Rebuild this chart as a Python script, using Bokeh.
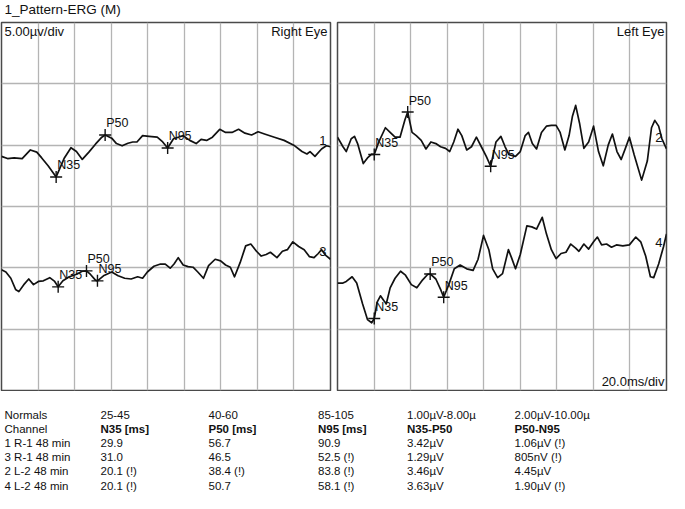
from bokeh.plotting import figure
from bokeh.layouts import column, row
from bokeh.models import Range1d, FixedTicker
from bokeh.core.properties import value
from bokeh.embed import file_html
from bokeh.resources import INLINE

FONT = "Liberation Sans"
INK = "#111111"

# ---------------- data ----------------
title_text = "1_Pattern-ERG (M)"
x_ticks = [20, 40, 60, 80, 100, 120, 140, 160]      # ms (20 ms/div)
y_ticks = [-10, -5, 0, 5, 10]                        # µV (5 µV/div)

# trace 1 (Right eye, upper)
t1 = [0, 3.3, 6.9, 11.3, 15.8, 19.3, 22.0, 25.5, 29.9, 34.4, 38.0, 41.0, 44.2, 47.8, 51.4,
      54.9, 56.7, 60.3, 62.9, 66.0, 69.2, 71.8, 74.1, 77.2, 80.7, 85.2, 88.2, 90.9, 94.1, 96.7,
      99.4, 103.0, 106.5, 109.2, 112.2, 115.4, 119.4, 122.6, 126.1, 129.7, 133.2, 136.8, 140.4,
      143.9, 149.3, 154.6, 159.9, 164.4, 167.1, 168.8, 171.5, 175.1, 177.7, 180]
v1 = [-0.91, -1.09, -1.04, -1.09, -0.39, -0.57, -1.04, -1.68, -2.59, -1.04, -0.21, -0.52, -1.16,
      -0.57, 0.08, 0.65, 0.83, 0.57, 0.13, -0.05, 0.16, 0.26, 0.26, 0.78, 0.72, 0.65, 0.26, -0.23,
      0.52, 0.65, 0.78, 0.39, 0.13, 0.47, 0.39, 0.65, 1.29, 1.04, 1.04, 1.29, 0.98, 0.83, 1.09,
      0.91, 0.65, 0.39, 0, -0.52, -0.72, -0.52, -0.91, -0.31, -0.05, -0.13]

# trace 3 (Right eye, lower)
t3 = [0, 2.4, 5.1, 7.7, 9.5, 12.2, 14.9, 17.5, 20.2, 22.9, 26.4, 29.1, 31.0, 33.6, 37.1, 40.7,
      44.2, 46.5, 48.7, 51.4, 52.5, 55.8, 60.3, 63.8, 67.4, 70.9, 74.5, 77.2, 79.8, 83.4, 87.0,
      89.6, 92.3, 94.4, 96.7, 99.4, 102.1, 104.8, 107.4, 110.5, 113.3, 116.9, 119.9, 122.6, 125.2,
      127.5, 130.6, 133.6, 136.4, 139.5, 142.1, 144.8, 147.1, 150.7, 153.7, 156.4, 159.4, 162.6,
      165.6, 168.5, 171.0, 173.3, 175.1, 177.4, 180]
v3 = [-0.16, -0.34, -0.85, -1.76, -1.94, -1.37, -0.91, -1.37, -1.11, -1.06, -0.80, -1.11, -1.55,
      -1.06, -0.73, -0.54, -0.28, -0.25, -0.54, -1.00, -1.06, -0.65, -0.34, -0.65, -0.85, -0.91,
      -0.73, -0.85, -0.34, 0.13, 0.31, 0.31, -0.03, 0.31, 0.83, 0.23, 0.10, 0.05, -0.34, -0.85,
      0.18, 0.70, 0.57, 0.23, 0.05, -0.73, 0.44, 1.79, 1.94, 1.35, 0.96, 1.09, 1.27, 0.83, 1.35,
      1.48, 2.12, 1.74, 1.48, 0.91, 0.83, 1.17, 1.48, 1.01, 0.70]

# trace 2 (Left eye, upper)
t2 = [0, 3.0, 4.8, 7.5, 9.3, 11.0, 14.1, 16.4, 18.7, 20.1, 22.6, 26.2, 28.8, 31.5, 34.2, 36.9,
      38.4, 40.8, 43.1, 45.8, 48.4, 51.1, 53.8, 56.4, 59.1, 61.4, 63.6, 65.9, 68.0, 70.7, 73.3,
      76.0, 78.7, 81.4, 83.8, 86.7, 89.4, 91.7, 93.8, 97.4, 100.0, 102.7, 104.5, 106.6, 108.9,
      111.6, 114.3, 117.0, 119.6, 121.8, 124.4, 126.7, 128.5, 130.3, 132.4, 134.8, 137.4, 140.1,
      142.8, 145.4, 148.1, 150.4, 152.9, 155.2, 157.5, 159.7, 162.3, 166.4, 169.5, 171.8, 173.6,
      175.7, 177.5, 180]
v2 = [0.65, -0.13, -0.52, 0.52, 0.72, 0.13, -1.50, -1.04, -0.73, -0.76, 0.26, 1.42, 1.04, 0.65,
      0.65, 2.07, 2.70, 1.04, 0.78, 0.39, -0.31, 0.26, 0.13, -0.13, -0.26, -0.52, 0.26, 1.30,
      0.78, -0.39, -0.13, 0.65, -0.13, -0.91, -1.72, 0.26, 0.72, -0.13, -0.78, -0.91, -0.52,
      0.78, 1.04, 0.13, -0.31, 1.04, 1.55, 1.61, 1.61, 1.04, -0.39, 0.78, 2.33, 3.24, 1.81,
      -0.26, 0.26, 1.55, -0.52, -1.68, 0, 0.91, -0.52, -1.17, -0.26, 0.65, -0.78, -2.85, -1.30,
      1.42, 2.02, 1.55, 0.52, -0.30]

# trace 4 (Left eye, lower)
t4 = [0, 3.0, 4.8, 8.0, 10.5, 13.7, 16.4, 18.7, 20.1, 21.7, 23.5, 25.3, 26.7, 28.8, 31.5, 34.5,
      37.2, 40.4, 43.4, 46.6, 49.3, 50.7, 53.8, 56.4, 58.1, 60.9, 63.9, 67.1, 70.7, 74.2, 76.9,
      79.9, 82.8, 84.9, 87.6, 90.3, 93.5, 95.2, 97.4, 100.0, 103.6, 106.3, 108.9, 112.0, 114.3,
      117.0, 119.6, 122.3, 125.0, 127.6, 130.3, 132.1, 134.8, 137.4, 140.1, 142.2, 144.5, 147.2,
      149.9, 152.6, 156.1, 159.7, 163.2, 165.9, 168.6, 171.2, 173.0, 175.7, 178.4, 180]
v4 = [-1.24, -1.24, -1.11, -0.73, -1.24, -2.93, -4.22, -4.48, -4.13, -2.80, -2.28, -2.67, -2.93,
      -1.63, -0.85, -0.28, -0.60, -1.37, -1.63, -0.98, -0.54, -0.50, -0.91, -1.76, -2.40, -1.37,
      -0.08, 0.23, -0.08, -0.21, 0.70, 2.64, 1.48, -0.08, -0.80, -0.47, 1.48, 0.83, -0.08, 1.09,
      3.42, 3.34, 3.16, 4.12, 2.77, 1.48, 0.75, 1.17, 1.27, 1.94, 1.61, 1.35, 1.94, 1.53, 2.12,
      2.51, 1.87, 1.94, 1.68, 1.87, 1.79, 1.87, 2.51, 2.12, 0.96, -0.73, -0.80, 0.31, 1.74, 2.77]

# peak markers: names, latencies (ms) and amplitudes (µV)
peak_names = ["N35", "P50", "N95"]
peak_t1 = [29.9, 56.7, 90.9]
peak_v1 = [-2.59, 0.83, -0.23]
peak_t3 = [31.0, 46.5, 52.5]
peak_v3 = [-1.55, -0.25, -1.06]
peak_t2 = [20.1, 38.4, 83.8]
peak_v2 = [-0.76, 2.70, -1.72]
peak_t4 = [20.1, 50.7, 58.1]
peak_v4 = [-4.13, -0.50, -2.40]

# results table
row_labels = ["Normals", "Channel", "1 R-1 48 min", "3 R-1 48 min", "2 L-2 48 min", "4 L-2 48 min"]
normals = ["25-45", "40-60", "85-105", "1.00µV-8.00µ", "2.00µV-10.00µ"]
headers = ["N35 [ms]", "P50 [ms]", "N95 [ms]", "N35-P50", "P50-N95"]
col_n35 = ["29.9", "31.0", "20.1 (!)", "20.1 (!)"]
col_p50 = ["56.7", "46.5", "38.4 (!)", "50.7"]
col_n95 = ["90.9", "52.5 (!)", "83.8 (!)", "58.1 (!)"]
col_n35_p50 = ["3.42µV", "1.29µV", "3.46µV", "3.63µV"]
col_p50_n95 = ["1.06µV (!)", "805nV (!)", "4.45µV", "1.90µV (!)"]

# ---------------- layout ----------------
W = 669
TITLE_H = 21
PANEL_H = 370
TABLE_H = 102
UPPER, LOWER = 5, -5   # baseline offsets (µV) of the two traces in each panel


def txt(p, x, y, s, size, align="left", xo=0, yo=0, style="normal"):
    p.text(x=[x], y=[y], text=[s], text_font=value(FONT), text_font_size=size,
           text_color=INK, text_align=align, text_baseline="middle",
           x_offset=xo, y_offset=yo, text_font_style=style)


def panel(width, bl, br):
    p = figure(width=width, height=PANEL_H, x_range=Range1d(0, 180), y_range=Range1d(-15, 15),
               output_backend="svg", toolbar_location=None,
               x_axis_location=None, y_axis_location=None,
               min_border_left=bl, min_border_right=br, min_border_top=1, min_border_bottom=1)
    p.outline_line_color = "#4a4a4a"
    p.outline_line_width = 1.5
    p.xgrid.ticker = FixedTicker(ticks=x_ticks)
    p.ygrid.ticker = FixedTicker(ticks=y_ticks)
    p.grid.grid_line_color = "#b4b4b4"
    p.grid.grid_line_width = 1.3
    p.background_fill_color = "white"
    p.border_fill_color = "white"
    return p


def trace(p, t, v, off, pt, pv, num, num_dy):
    p.line(t, [a + off for a in v], line_color=INK, line_width=1.7, line_join="round")
    p.scatter(pt, [a + off for a in pv], marker="cross", size=12, line_color=INK, line_width=1.4)
    p.text(x=pt, y=[a + off for a in pv], text=peak_names, text_font=value(FONT),
           text_font_size="12.5px", text_color=INK, text_baseline="middle",
           x_offset=1, y_offset=-11.5)
    txt(p, 180, off + num_dy, num, "13px", align="right", xo=-4, yo=-4.5)


left = panel(334, 1, 4)
trace(left, t1, v1, UPPER, peak_t1, peak_v1, "1", 0.0)
trace(left, t3, v3, LOWER, peak_t3, peak_v3, "3", 0.95)
txt(left, 0, 15, "5.00µv/div", "13px", xo=3, yo=9)
txt(left, 180, 15, "Right Eye", "13px", align="right", xo=-3, yo=9)

right = panel(335, 3, 3)
trace(right, t2, v2, UPPER, peak_t2, peak_v2, "2", 0.26)
trace(right, t4, v4, LOWER, peak_t4, peak_v4, "4", 1.73)
txt(right, 180, 15, "Left Eye", "13px", align="right", xo=-2, yo=9)
txt(right, 180, -15, "20.0ms/div", "13px", align="right", xo=-2, yo=-9)


def blank(h):
    p = figure(width=W, height=h, x_range=Range1d(0, W), y_range=Range1d(h, 0),
               output_backend="svg", toolbar_location=None,
               x_axis_location=None, y_axis_location=None, min_border=0)
    p.grid.visible = False
    p.outline_line_color = None
    p.background_fill_color = "white"
    p.border_fill_color = "white"
    return p


title = blank(TITLE_H)
txt(title, 4, 8.5, title_text, "13.5px")

table = blank(TABLE_H)
col_x = [4, 100, 208, 317.5, 406.5, 514]
row_y = [23, 37.2, 51.4, 65.6, 79.8, 94]
for i, lab in enumerate(row_labels):
    txt(table, col_x[0], row_y[i], lab, "11.5px")
for j in range(5):
    txt(table, col_x[j + 1], row_y[0], normals[j], "11.5px")
    txt(table, col_x[j + 1], row_y[1], headers[j], "11.5px", style="bold")
for j, col in enumerate([col_n35, col_p50, col_n95, col_n35_p50, col_p50_n95]):
    for i, s in enumerate(col):
        txt(table, col_x[j + 1], row_y[i + 2], s, "11.5px")

layout = column(title, row(left, right), table)
open("out.html", "w").write(file_html(layout, INLINE))
